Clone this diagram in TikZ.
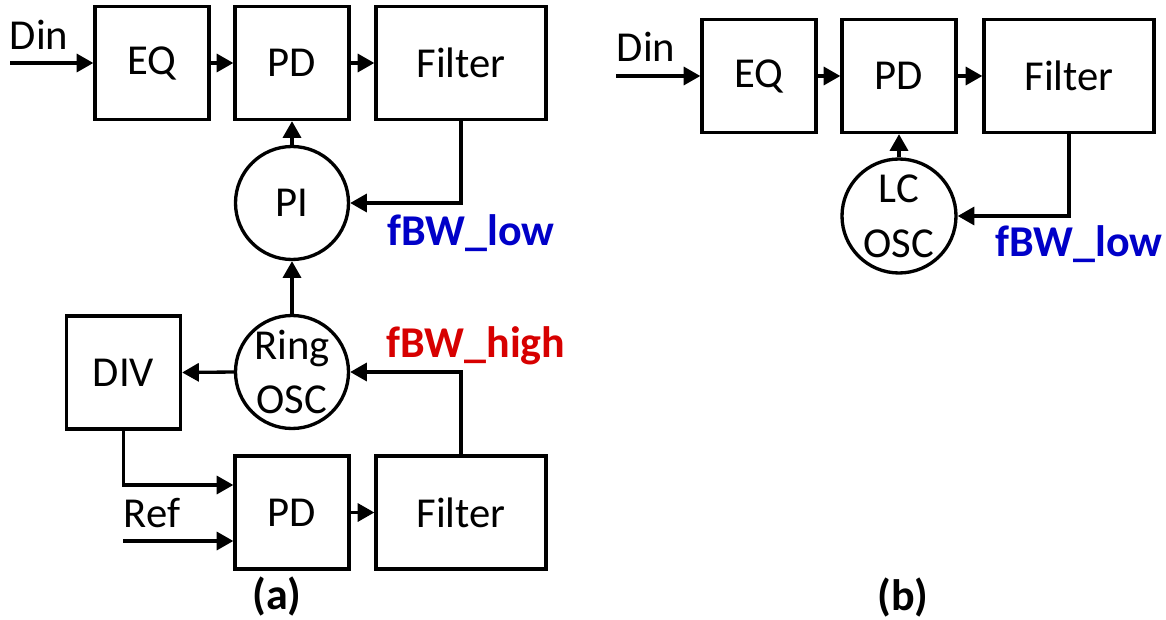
\documentclass[tikz,border=0pt]{standalone}
\usepackage{fontspec}
\setmainfont{Carlito}
\usetikzlibrary{arrows.meta,calc}
\definecolor{lblue}{RGB}{0,0,200}
\definecolor{lred}{RGB}{215,0,0}
\begin{document}
\begin{tikzpicture}[x=0.75pt,y=-0.75pt,
  every node/.style={font=\fontsize{32}{41}\selectfont},
  blk/.style={draw,line width=2.5pt,minimum height=113*0.75pt,inner sep=0pt},
  sbox/.style={blk,minimum width=114*0.75pt},
  fbox/.style={blk,minimum width=170*0.75pt},
  osc/.style={draw,circle,line width=2.5pt,minimum size=113*0.75pt,inner sep=0pt,align=center},
  arr/.style={line width=2.5pt,-{Triangle[length=12.5pt,width=13.5pt]}},
  lbl/.style={anchor=base},
  bw/.style={anchor=base,font=\fontsize{33}{40}\selectfont\bfseries}
]
\useasboundingbox (0,0) rectangle (1166,620);
% ---------- (a) ----------
\node[sbox] (EQa) at (152,63) {EQ};
\node[sbox] (PDa) at (292,63) {PD};
\node[fbox] (Fa) at (461,63) {Filter};
\node[osc] (PI) at (292,203) {PI};
\node[osc] (Ring) at (292,372) {Ring\\OSC};
\node[sbox] (DIV) at (123.5,372.5) {DIV};
\node[sbox] (PDb) at (292,512.5) {PD};
\node[fbox] (Fb) at (461,512.5) {Filter};
\node[lbl] (dinA) at (39,50) {Din};
\coordinate (dinAs) at (10,63);
\draw[arr] (dinAs) -- (EQa.west);
\draw[arr] (EQa.east) -- (PDa.west);
\draw[arr] (PDa.east) -- (Fa.west);
\draw[arr] (PI.north) -- (PDa.south);
\draw[arr] (Fa.south) |- (PI.east);
\node[bw,text=lblue] (lowA) at (471,245) {fBW\_low};
\draw[arr] (Ring.north) -- (PI.south);
\draw[arr] (Ring.west) -- (DIV.east);
\draw[arr] (Fb.north) |- (Ring.east);
\node[bw,text=lred] (high) at (476,357) {fBW\_high};
\coordinate (pdin1) at ($(PDb.west)+(0,-27.5)$);
\draw[arr] (DIV.south) |- (pdin1);
\coordinate (refS) at (123,541);
\draw[arr] (refS) -- (PDb.west |- refS);
\node[lbl] (ref) at (152,527) {Ref};
\draw[arr] (PDb.east) -- (Fb.west);
\node[font=\fontsize{33}{40}\selectfont\bfseries] (capA) at (277,596) {(a)};
% ---------- (b) ----------
\node[sbox] (EQc) at (759,76) {EQ};
\node[sbox] (PDc) at (899,76) {PD};
\node[fbox] (Fc) at (1069,76) {Filter};
\node[osc,minimum size=114*0.75pt] (LC) at (899,216) {LC\\OSC};
\node[lbl] (dinB) at (646,62) {Din};
\coordinate (dinBs) at (616,76);
\draw[arr] (dinBs) -- (EQc.west);
\draw[arr] (EQc.east) -- (PDc.west);
\draw[arr] (PDc.east) -- (Fc.west);
\draw[arr] (LC.north) -- (PDc.south);
\draw[arr] (Fc.south) |- (LC.east);
\node[bw,text=lblue] (lowB) at (1079,257) {fBW\_low};
\node[font=\fontsize{33}{40}\selectfont\bfseries] (capB) at (903,597) {(b)};
\end{tikzpicture}
\end{document}
